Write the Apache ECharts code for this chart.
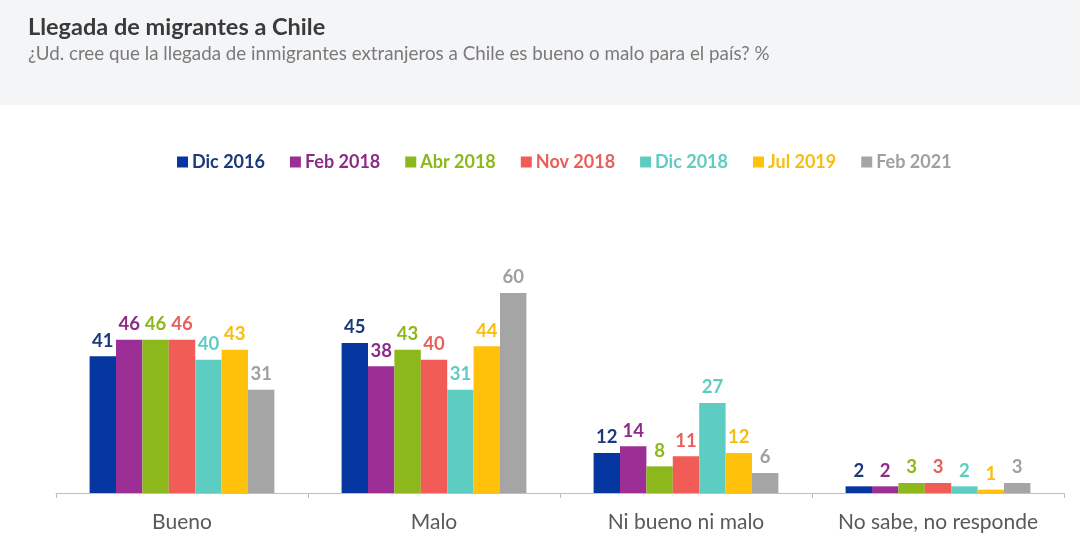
<!DOCTYPE html>
<html><head><meta charset="utf-8">
<script src="https://cdn.jsdelivr.net/npm/echarts@6/dist/echarts.min.js"></script>
<style>html,body{margin:0;padding:0;background:#fff}#c{width:1080px;height:555px}</style>
</head><body><div id="c"></div>
<script>
const categories = ["Bueno", "Malo", "Ni bueno ni malo", "No sabe, no responde"];
const seriesNames = ["Dic 2016", "Feb 2018", "Abr 2018", "Nov 2018", "Dic 2018", "Jul 2019", "Feb 2021"];
const dic2016 = [41, 45, 12, 2];
const feb2018 = [46, 38, 14, 2];
const abr2018 = [46, 43, 8, 3];
const nov2018 = [46, 40, 11, 3];
const dic2018 = [40, 31, 27, 2];
const jul2019 = [43, 44, 12, 1];
const feb2021 = [31, 60, 6, 3];
const values = [dic2016, feb2018, abr2018, nov2018, dic2018, jul2019, feb2021];
const colors = ["#0636a0", "#9c2f96", "#8cb81c", "#f15c57", "#5ecdc1", "#ffc10a", "#a5a5a5"];
const labelColors = ["#1b3a7a", "#8e2b89", "#8cb81c", "#e8605b", "#5ecdc1", "#f7bd10", "#a0a0a0"];
const FONT = "Lato, 'Open Sans', sans-serif";

const chart = echarts.init(document.getElementById('c'));
chart.setOption({
  animation: false,
  backgroundColor: '#ffffff',
  graphic: [
    {type: 'rect', left: 0, top: 0, shape: {width: 1080, height: 105}, style: {fill: '#f4f5f7'}, z: -10},
    {type: 'text', left: 28, top: 15, style: {text: 'Llegada de migrantes a Chile', fill: '#3a3a3a', font: "bold 23.5px " + FONT}},
    {type: 'text', left: 28, top: 44, style: {text: '¿Ud. cree que la llegada de inmigrantes extranjeros a Chile es bueno o malo para el país? %', fill: '#7a7a7a', font: "18.8px " + FONT}}
  ],
  legend: {
    top: 148, left: 172,
    itemWidth: 11, itemHeight: 11, itemGap: 25,
    icon: 'rect',
    data: seriesNames.map((n, i) => ({name: n, textStyle: {color: labelColors[i]}})),
    textStyle: {fontFamily: FONT, fontSize: 18, fontWeight: 'bold', padding: [0, 0, 0, -1]}
  },
  grid: {left: 56, right: 16, top: 293, bottom: 62},
  xAxis: {
    type: 'category', data: categories,
    axisLine: {lineStyle: {color: '#bfbfbf'}},
    axisTick: {show: true, length: 5, lineStyle: {color: '#bfbfbf'}},
    axisLabel: {interval: 0, color: '#595959', fontFamily: FONT, fontSize: 21, margin: 19}
  },
  yAxis: {type: 'value', min: 0, max: 60, show: false, splitLine: {show: false}},
  series: seriesNames.map((n, i) => ({
    name: n, type: 'bar', data: values[i],
    barWidth: 26.4, barGap: '0%', barCategoryGap: '26%',
    itemStyle: {color: colors[i]},
    label: {show: true, position: 'top', distance: 6, color: labelColors[i], fontFamily: FONT, fontSize: 18.5, fontWeight: 'bold'}
  }))
});
</script></body></html>
